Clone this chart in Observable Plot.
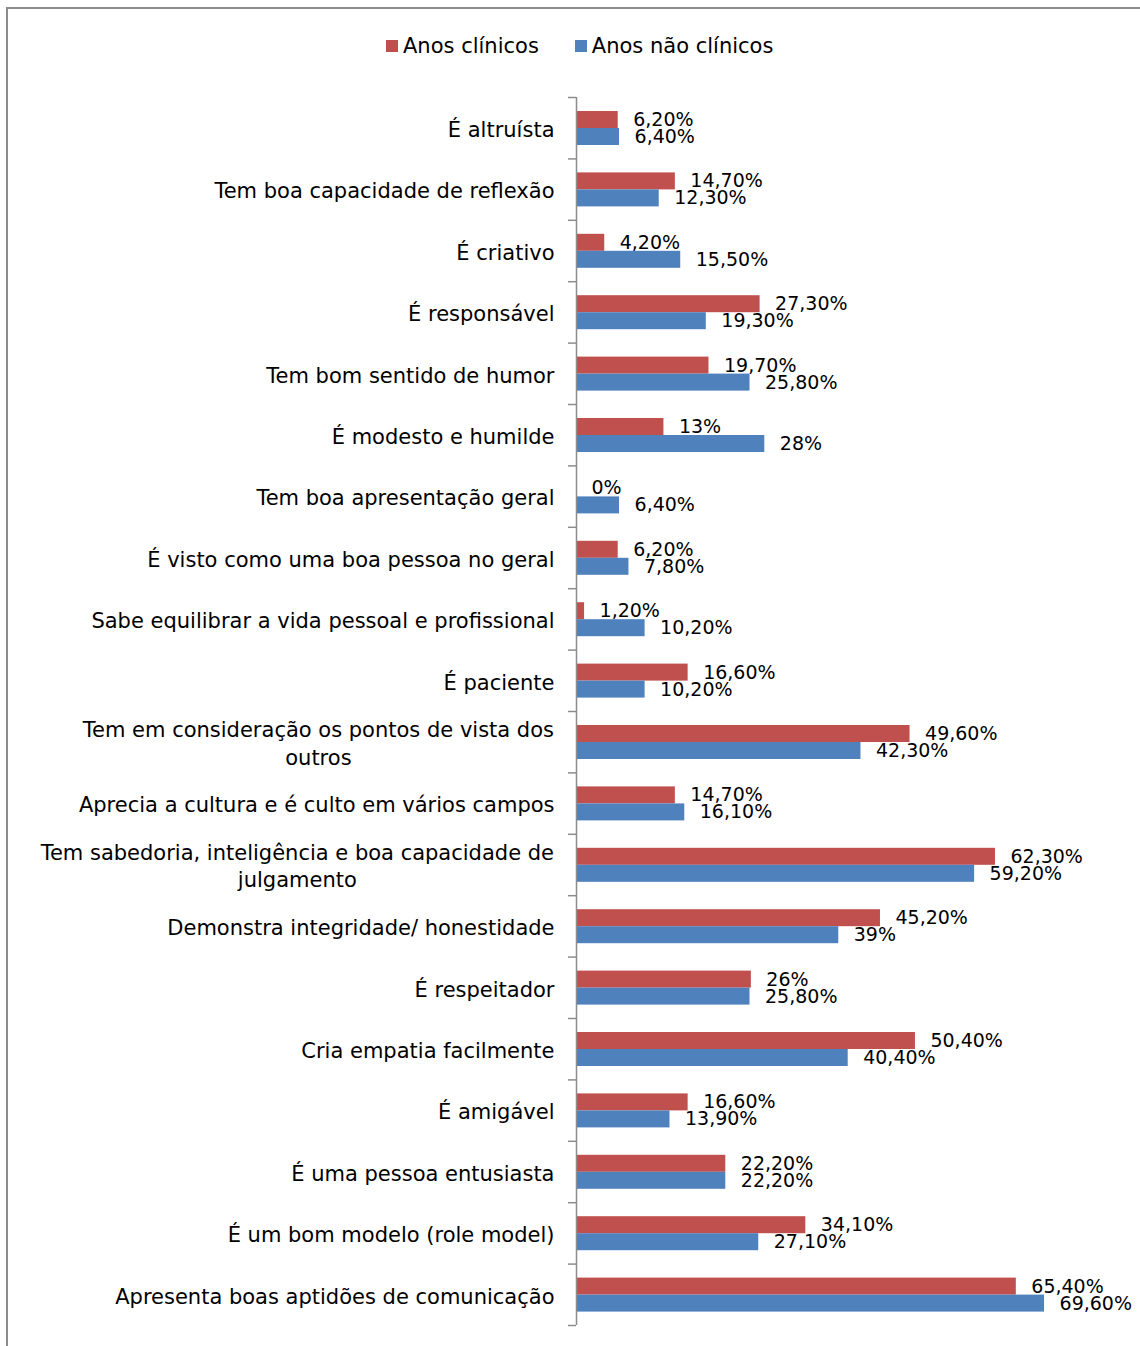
<!DOCTYPE html>
<html>
<head>
<meta charset="utf-8">
<script src="https://cdn.jsdelivr.net/npm/d3@7"></script>
<script src="https://cdn.jsdelivr.net/npm/@observablehq/plot@0.6"></script>
<style>
  html, body { margin: 0; padding: 0; background: #fff; overflow: hidden; width: 1140px; height: 1346px; }
  body { position: relative; font-family: "DejaVu Sans", sans-serif; color: #000; }
  #frame { position: absolute; left: 6px; top: 7px; width: 2000px; height: 2000px; border: 2px solid #8c8c8c; box-sizing: border-box; }
  #legend { position: absolute; left: 386px; top: 34px; display: flex; align-items: center; font-size: 21px; white-space: nowrap; }
  .item { display: flex; align-items: center; }
  .sw { width: 12px; height: 12px; margin-right: 5px; }
  #chart { position: absolute; left: 0; top: 80px; }
</style>
</head>
<body>
<div id="frame"></div>
<div id="legend"></div>
<div id="chart"></div>
<script>
const categories = [
  "É altruísta",
  "Tem boa capacidade de reflexão",
  "É criativo",
  "É responsável",
  "Tem bom sentido de humor",
  "É modesto e humilde",
  "Tem boa apresentação geral",
  "É visto como uma boa pessoa no geral",
  "Sabe equilibrar a vida pessoal e profissional",
  "É paciente",
  "Tem em consideração os pontos de vista dos\noutros",
  "Aprecia a cultura e é culto em vários campos",
  "Tem sabedoria, inteligência e boa capacidade de\njulgamento",
  "Demonstra integridade/ honestidade",
  "É respeitador",
  "Cria empatia facilmente",
  "É amigável",
  "É uma pessoa entusiasta",
  "É um bom modelo (role model)",
  "Apresenta boas aptidões de comunicação"
];
const anosClinicos = [6.2, 14.7, 4.2, 27.3, 19.7, 13, 0, 6.2, 1.2, 16.6, 49.6, 14.7, 62.3, 45.2, 26, 50.4, 16.6, 22.2, 34.1, 65.4];
const anosNaoClinicos = [6.4, 12.3, 15.5, 19.3, 25.8, 28, 6.4, 7.8, 10.2, 10.2, 42.3, 16.1, 59.2, 39, 25.8, 40.4, 13.9, 22.2, 27.1, 69.6];
const seriesNames = ["Anos clínicos", "Anos não clínicos"];
const seriesColors = ["#C0504D", "#4F81BD"];

const rows = categories.map((c, i) => ({cat: c, clin: anosClinicos[i], nao: anosNaoClinicos[i]}));
const fmt = v => (Number.isInteger(v) ? String(v) : v.toFixed(2).replace(".", ",")) + "%";

// legend
const legend = document.getElementById("legend");
seriesNames.forEach((n, i) => {
  const it = document.createElement("div");
  it.className = "item";
  if (i > 0) it.style.marginLeft = "36px";
  const sw = document.createElement("div");
  sw.className = "sw";
  sw.style.background = seriesColors[i];
  const t = document.createElement("span");
  t.textContent = n;
  it.appendChild(sw); it.appendChild(t);
  legend.appendChild(it);
});

const W = 1140, H = 1266, ML = 576, MR = 26, MT = 17, MB = 21;
const bandPx = (H - MT - MB) / categories.length;
const frameW = W - ML - MR;
const AXIS = "#8c8c8c";

const chart = Plot.plot({
  width: W, height: H,
  marginLeft: ML, marginRight: MR, marginTop: MT, marginBottom: MB,
  style: {fontFamily: "DejaVu Sans, sans-serif", fontSize: "19px", color: "#000", background: "transparent"},
  x: {domain: [0, 80], axis: null},
  y: {domain: categories, padding: 0, round: false, axis: null},
  marks: [
    Plot.barX(rows, {x: "clin", y: "cat", fill: seriesColors[0], insetTop: 14, insetBottom: bandPx - 31}),
    Plot.barX(rows, {x: "nao", y: "cat", fill: seriesColors[1], insetTop: 31, insetBottom: bandPx - 48}),
    Plot.ruleX([0], {stroke: AXIS, strokeWidth: 1.5}),
    Plot.tickY(categories, {y: d => d, dy: -bandPx / 2, insetLeft: -8, insetRight: frameW, stroke: AXIS, strokeWidth: 1.5}),
    Plot.tickY(categories.slice(-1), {y: d => d, dy: bandPx / 2, insetLeft: -8, insetRight: frameW, stroke: AXIS, strokeWidth: 1.5}),
    Plot.text(categories, {y: d => d, text: d => d, frameAnchor: "left", dx: -22, textAnchor: "end", lineHeight: 1.3, fontSize: 21, fill: "#000"}),
    Plot.text(rows, {x: "clin", y: "cat", text: d => fmt(d.clin), dx: 15, dy: -8.2, textAnchor: "start", fill: "#000"}),
    Plot.text(rows, {x: "nao", y: "cat", text: d => fmt(d.nao), dx: 15, dy: 8.8, textAnchor: "start", fill: "#000"})
  ]
});
document.getElementById("chart").appendChild(chart);

// center multi-line category labels like the original
chart.querySelectorAll("text").forEach(t => {
  const spans = t.querySelectorAll("tspan");
  if (spans.length > 1) {
    const bb = t.getBBox();
    const x0 = +(t.getAttribute("x") || 0);
    t.setAttribute("text-anchor", "middle");
    t.setAttribute("x", x0 - bb.width / 2);
    spans.forEach(s => { if (s.hasAttribute("x")) s.setAttribute("x", x0 - bb.width / 2); });
  }
});
</script>
</body>
</html>
